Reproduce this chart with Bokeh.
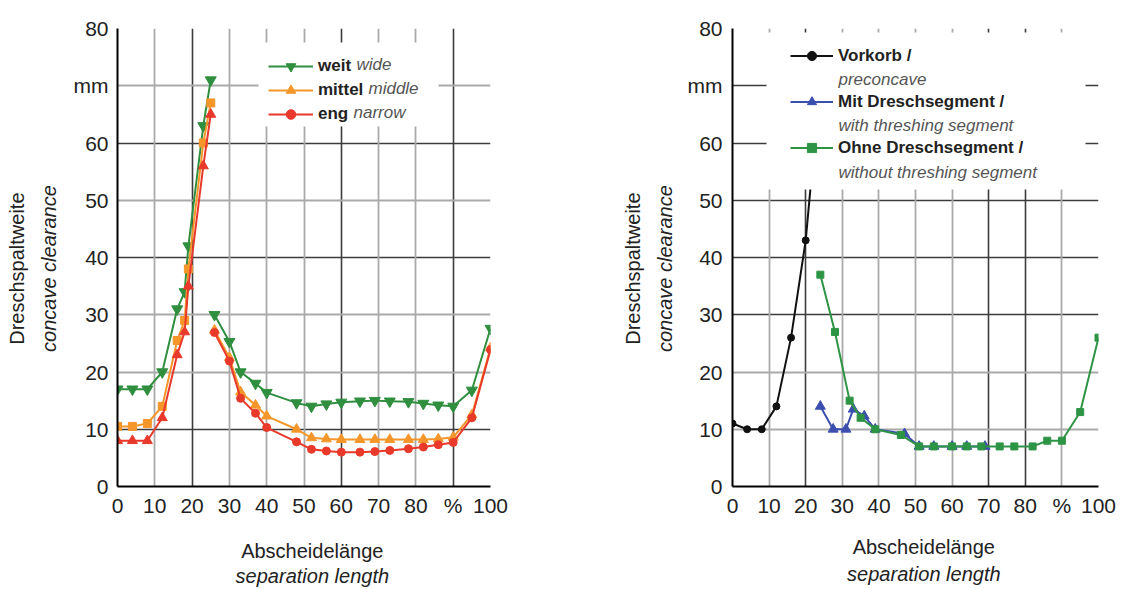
from bokeh.plotting import figure
from bokeh.models import (FixedTicker, Grid, Legend, LegendItem, Label,
                          BoxAnnotation, Range1d, LinearAxis)
from bokeh.layouts import row
from bokeh.embed import file_html
from bokeh.resources import INLINE

FONT = "Liberation Sans"

# ---------------- data: left chart ----------------
rise_x = [0, 4, 8, 12, 16, 18, 19, 23, 25]
weit_rise = [17, 17, 17, 20, 31, 34, 42, 63, 71]
mittel_rise = [10.5, 10.5, 11, 14, 25.5, 29, 38, 60, 67]
eng_rise = [8, 8, 8, 12, 23, 27, 35, 56, 65]

fall_x = [26, 30, 33, 37, 40, 48, 52, 56, 60, 65, 69, 73, 78, 82, 86, 90, 95, 100]
weit_fall = [30, 25.3, 20, 18, 16.4, 14.6, 14, 14.4, 14.7, 14.9, 15, 14.9, 14.8, 14.5, 14.2, 14, 16.8, 27.6]
mittel_fall = [27.3, 22.5, 16.5, 14.2, 12.3, 10, 8.5, 8.3, 8.2, 8.2, 8.2, 8.2, 8.2, 8.2, 8.3, 8.6, 12.5, 24.2]
eng_fall = [26.9, 21.9, 15.4, 12.8, 10.3, 7.8, 6.5, 6.2, 6, 6, 6.1, 6.3, 6.6, 6.9, 7.3, 7.7, 12, 23.9]

# ---------------- data: right chart ----------------
vork_x = [0, 4, 8, 12, 16, 20, 22]
vork_y = [11, 10, 10, 14, 26, 43, 57]
mit_x = [24, 27.5, 31, 33, 36, 39, 47, 51, 55, 60, 64, 69]
mit_y = [14, 10, 10, 13.5, 12.3, 10, 9.2, 7, 7, 7, 7, 7]
ohne_x = [24, 28, 32, 35, 39, 46, 51, 55, 60, 64, 68, 73, 77, 82, 86, 90, 95, 100]
ohne_y = [37, 27, 15, 12, 10, 9, 7, 7, 7, 7, 7, 7, 7, 7, 8, 8, 13, 26]

# ---------------- ticks ----------------
x_ticks = [0, 10, 20, 30, 40, 50, 60, 70, 80, 90, 100]
x_tick_labels = {90: "%"}
y_ticks = [0, 10, 20, 30, 40, 50, 60, 70, 80]
y_tick_labels = {70: "mm"}

DARK = "#3c3c3c"
LIGHT = "#aaaaaa"
TXT = "#222222"

# padding shifts the centred axis titles slightly (as in the original layout)
YPAD = "    "
XPAD = "\u00a0\u00a0\u00a0"


def style_label(ax, text, style, standoff):
    ax.axis_label = text
    ax.axis_label_text_font = FONT
    ax.axis_label_text_font_size = "20px"
    ax.axis_label_text_font_style = style
    ax.axis_label_text_color = TXT
    ax.axis_label_standoff = standoff


def blank_axis(text, style, standoff):
    ax = LinearAxis(ticker=FixedTicker(ticks=[]), axis_line_color=None,
                    major_tick_line_color=None, minor_tick_line_color=None,
                    major_tick_out=0, major_tick_in=0, minor_tick_out=0,
                    major_label_standoff=0)
    style_label(ax, text, style, standoff)
    return ax


def make_fig(width, height, bl, br, bt, bb, dark_x, light_x, dark_y, light_y,
             xstand, ystand):
    p = figure(width=width, height=height, x_range=Range1d(0, 100), y_range=Range1d(0, 80),
               toolbar_location=None, output_backend="svg",
               min_border_left=bl, min_border_right=br, min_border_top=bt, min_border_bottom=bb)
    p.outline_line_color = None
    for ax, ticks, labels in ((p.xaxis[0], x_ticks, x_tick_labels), (p.yaxis[0], y_ticks, y_tick_labels)):
        ax.ticker = FixedTicker(ticks=ticks)
        ax.major_label_overrides = labels
        ax.axis_line_color = "black"
        ax.axis_line_width = 2
        ax.major_tick_line_color = None
        ax.minor_tick_line_color = None
        ax.major_tick_out = 0
        ax.major_tick_in = 0
        ax.minor_tick_out = 0
        ax.major_label_text_font = FONT
        ax.major_label_text_font_size = "21px"
        ax.major_label_text_color = TXT
    p.xaxis[0].major_label_standoff = xstand
    p.yaxis[0].major_label_standoff = ystand
    p.xgrid.ticker = FixedTicker(ticks=dark_x)
    p.ygrid.ticker = FixedTicker(ticks=dark_y)
    for g in (p.xgrid, p.ygrid):
        g.grid_line_color = DARK
        g.grid_line_width = 1.6
    p.add_layout(Grid(dimension=0, ticker=FixedTicker(ticks=light_x),
                      grid_line_color=LIGHT, grid_line_width=1.8), "center")
    p.add_layout(Grid(dimension=1, ticker=FixedTicker(ticks=light_y),
                      grid_line_color=LIGHT, grid_line_width=1.8), "center")
    return p


def add_text(p, text, x, y, size="17px", style="italic", color="#555555"):
    p.add_layout(Label(x=x, y=y, x_units="screen", y_units="screen", text=text,
                       text_font=FONT, text_font_size=size, text_font_style=style,
                       text_color=color, text_align="left", text_baseline="middle"))


def make_legend(items, location, gw, gh, spacing):
    return Legend(items=items, location=location, glyph_width=gw, glyph_height=gh,
                  label_height=gh, label_standoff=5, padding=6, spacing=spacing, margin=0,
                  background_fill_alpha=0, border_line_color=None,
                  label_text_font=FONT, label_text_font_size="17px",
                  label_text_font_style="bold", label_text_color=TXT)


# ================= left chart =================
p1 = make_fig(560, 589, 117, 70, 22, 97,
              dark_x=[20, 60, 90], light_x=[10, 30, 40, 50, 70, 80, 100],
              dark_y=[10, 40, 60], light_y=[20, 30, 50, 70, 80],
              xstand=7, ystand=9)

GREEN1 = "#2f8f3f"
ORANGE1 = "#f5962a"
RED1 = "#e8392b"

p1.line(rise_x, weit_rise, color=GREEN1, line_width=2)
gw_line = p1.line(fall_x, weit_fall, color=GREEN1, line_width=2)
p1.scatter(rise_x, weit_rise, marker="inverted_triangle", size=11, color=GREEN1)
gw_mk = p1.scatter(fall_x, weit_fall, marker="inverted_triangle", size=11, color=GREEN1)

p1.line(rise_x, mittel_rise, color=ORANGE1, line_width=2)
om_line = p1.line(fall_x, mittel_fall, color=ORANGE1, line_width=2)
p1.scatter(rise_x, mittel_rise, marker="square", size=8, color=ORANGE1)
om_mk = p1.scatter(fall_x, mittel_fall, marker="triangle", size=10, color=ORANGE1)

p1.line(rise_x, eng_rise, color=RED1, line_width=2)
re_line = p1.line(fall_x, eng_fall, color=RED1, line_width=2)
p1.scatter(rise_x, eng_rise, marker="triangle", size=10, color=RED1)
re_mk = p1.scatter(fall_x, eng_fall, marker="circle", size=8, color=RED1)

p1.add_layout(BoxAnnotation(left=141, right=321, top=444, bottom=360,
                            left_units="screen", right_units="screen",
                            top_units="screen", bottom_units="screen",
                            fill_color="white", fill_alpha=1, line_color=None))
p1.add_layout(make_legend([LegendItem(label="weit", renderers=[gw_line, gw_mk]),
                           LegendItem(label="mittel", renderers=[om_line, om_mk]),
                           LegendItem(label="eng", renderers=[re_line, re_mk])],
                          (151, 360), 45, 24, 0), "center")
add_text(p1, "wide", 239, 422)
add_text(p1, "middle", 251, 398)
add_text(p1, "narrow", 236, 374)

style_label(p1.yaxis[0], "concave clearance" + YPAD, "italic", 11)
style_label(p1.xaxis[0], XPAD + "Abscheidelänge", "normal", 20)
p1.add_layout(blank_axis("Dreschspaltweite" + YPAD, "normal", 7), "left")
p1.add_layout(blank_axis(XPAD + "separation length", "italic", 0), "below")

# ================= right chart =================
p2 = make_fig(563, 589, 172, 25, 28, 99,
              dark_x=[20, 70, 80], light_x=[10, 30, 40, 50, 60, 90, 100],
              dark_y=[30, 40, 50, 60, 70], light_y=[10, 20, 80],
              xstand=7, ystand=10)

BLACK = "#111111"
BLUE = "#3b4fae"
GREEN2 = "#2e9445"

vk_line = p2.line(vork_x, vork_y, color=BLACK, line_width=2)
vk_mk = p2.scatter(vork_x, vork_y, marker="circle", size=7, color=BLACK)
mt_line = p2.line(mit_x, mit_y, color=BLUE, line_width=2)
mt_mk = p2.scatter(mit_x, mit_y, marker="triangle", size=10, color=BLUE)
oh_line = p2.line(ohne_x, ohne_y, color=GREEN2, line_width=2)
oh_mk = p2.scatter(ohne_x, ohne_y, marker="square", size=7, color=GREEN2)

p2.add_layout(BoxAnnotation(left=34, right=353, top=454, bottom=297,
                            left_units="screen", right_units="screen",
                            top_units="screen", bottom_units="screen",
                            fill_color="white", fill_alpha=1, line_color=None))
p2.add_layout(make_legend([LegendItem(label="Vorkorb /", renderers=[vk_line, vk_mk]),
                           LegendItem(label="Mit Dreschsegment /", renderers=[mt_line, mt_mk]),
                           LegendItem(label="Ohne Dreschsegment /", renderers=[oh_line, oh_mk])],
                          (58, 327), 43, 23, 23), "center")
add_text(p2, "preconcave", 106, 407)
add_text(p2, "with threshing segment", 106, 361)
add_text(p2, "without threshing segment", 106, 314)

style_label(p2.yaxis[0], "concave clearance" + YPAD, "italic", 9)
style_label(p2.xaxis[0], XPAD + "Abscheidelänge", "normal", 16)
p2.add_layout(blank_axis("Dreschspaltweite" + YPAD, "normal", 7), "left")
p2.add_layout(blank_axis(XPAD + "separation length", "italic", 2), "below")

layout = row(p1, p2)
open("out.html", "w").write(file_html(layout, INLINE))
